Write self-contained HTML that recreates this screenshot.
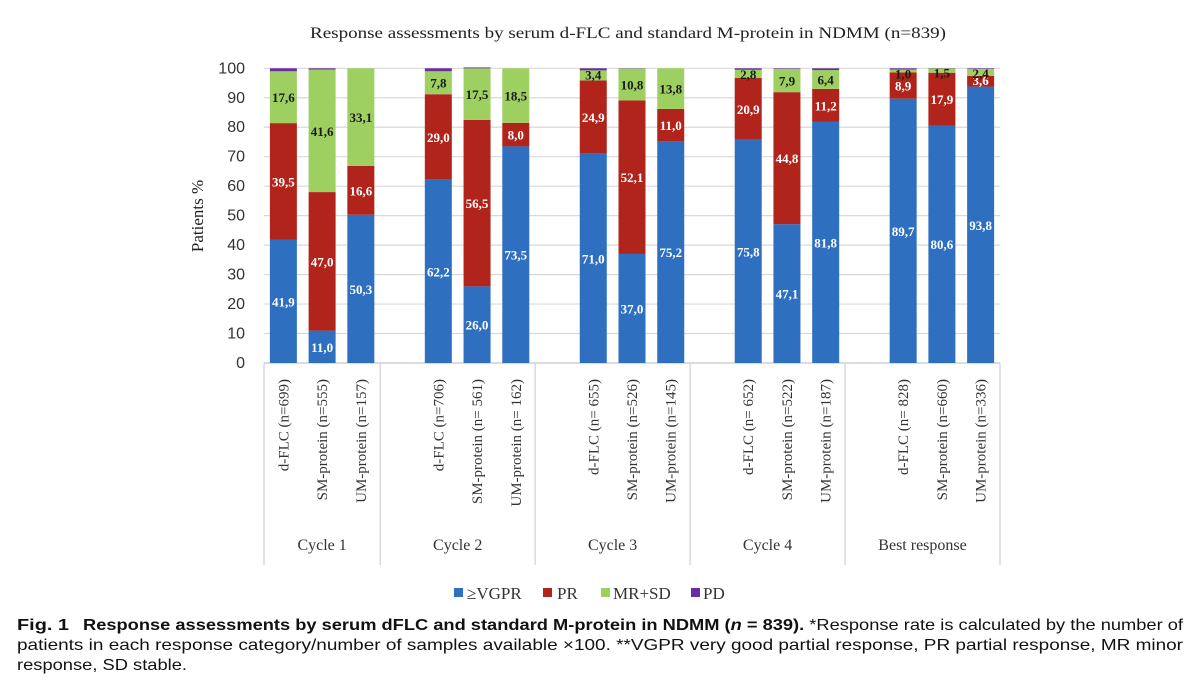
<!DOCTYPE html>
<html><head><meta charset="utf-8">
<style>
html,body{margin:0;padding:0;background:#fff;}
svg{display:block;}
</style></head>
<body>
<svg id="chart" width="1200" height="687" viewBox="0 0 1200 687" xmlns="http://www.w3.org/2000/svg">
<text x="310" y="38" textLength="636" lengthAdjust="spacingAndGlyphs" font-family="Liberation Serif, serif" font-size="16" fill="#222">Response assessments by serum d-FLC and standard M-protein in NDMM (n=839)</text>
<text transform="translate(203,216) rotate(-90)" text-anchor="middle" font-family="Liberation Serif, serif" font-size="17" fill="#222">Patients %</text>
<g id="grid"></g><g id="bars"></g><g id="xaxis"></g>
<g font-family="Liberation Serif, serif" font-size="17" fill="#333">
 <rect x="454" y="588" width="9" height="9" fill="#2e6fc0"/>
 <text x="467" y="599">≥VGPR</text>
 <rect x="543" y="588" width="9" height="9" fill="#b1241b"/>
 <text x="557" y="599">PR</text>
 <rect x="601" y="588" width="9" height="9" fill="#9dcf61"/>
 <text x="613" y="599">MR+SD</text>
 <rect x="691" y="588" width="9" height="9" fill="#6a2ca0"/>
 <text x="703" y="599">PD</text>
</g>
<g font-family="Liberation Sans, sans-serif" font-size="16" fill="#111">
 <text x="17" y="630" font-weight="bold" textLength="52" lengthAdjust="spacingAndGlyphs">Fig. 1</text>
 <text x="83" y="630" textLength="1100" lengthAdjust="spacingAndGlyphs"><tspan font-weight="bold">Response assessments by serum dFLC and standard M-protein in NDMM (<tspan font-style="italic">n</tspan> = 839).</tspan> *Response rate is calculated by the number of</text>
 <text x="17" y="650" textLength="1166" lengthAdjust="spacingAndGlyphs">patients in each response category/number of samples available ×100. **VGPR very good partial response, PR partial response, MR minor</text>
 <text x="17" y="670" textLength="170" lengthAdjust="spacingAndGlyphs">response, SD stable.</text>
</g>
</svg>
<script>
const groups = ["Cycle 1","Cycle 2","Cycle 3","Cycle 4","Best response"];
const categories = ["d-FLC (n=699)","SM-protein (n=555)","UM-protein (n=157)",
 "d-FLC (n=706)","SM-protein (n= 561)","UM-protein (n= 162)",
 "d-FLC (n= 655)","SM-protein (n=526)","UM-protein (n=145)",
 "d-FLC (n= 652)","SM-protein (n=522)","UM-protein (n=187)",
 "d-FLC (n= 828)","SM-protein (n=660)","UM-protein (n=336)"];
const vgpr = [41.9,11.0,50.3,62.2,26.0,73.5,71.0,37.0,75.2,75.8,47.1,81.8,89.7,80.6,93.8];
const pr   = [39.5,47.0,16.6,29.0,56.5,8.0,24.9,52.1,11.0,20.9,44.8,11.2,8.9,17.9,3.6];
const mrsd = [17.6,41.6,33.1,7.8,17.5,18.5,3.4,10.8,13.8,2.8,7.9,6.4,1.0,1.5,2.4];
const pd   = [1.0,0.4,0.0,1.0,0.3,0.0,0.7,0.1,0.0,0.5,0.2,0.6,0.4,0.1,0.2];
const yTicks = [0,10,20,30,40,50,60,70,80,90,100];

const NS="http://www.w3.org/2000/svg";
const X0=264, X1=1000, Y0=363, Y100=68.3, SLOT=(X1-X0)/19, BW=27;
const y = v => Y0 - (Y0-Y100)*v/100;
const slotOf = i => Math.floor(i/3)*4 + (i%3);
const xc = i => X0 + SLOT*(slotOf(i)+0.5);
function mk(tag, attrs, parent){const e=document.createElementNS(NS,tag);for(const k in attrs)e.setAttribute(k,attrs[k]);parent.appendChild(e);return e;}
const grid=document.getElementById('grid'), bars=document.getElementById('bars'), xa=document.getElementById('xaxis');

yTicks.forEach(t=>{
  const l=mk('line',{x1:X0,x2:X1,y1:y(t),y2:y(t),stroke:t===0?'#c8c8c8':'#d9d9d9','stroke-width':1.2},grid);
  
  
  const tx=mk('text',{x:245,y:y(t)+5,'text-anchor':'end','font-family':'Liberation Sans, sans-serif','font-size':16,fill:'#333'},grid);
  tx.textContent=t;
  
  
});

const series=[{d:vgpr,c:'#2e6fc0',n:'vgpr',tc:'#fff'},{d:pr,c:'#b1241b',n:'pr',tc:'#fff'},{d:mrsd,c:'#9dcf61',n:'mrsd',tc:'#1a1a1a'},{d:pd,c:'#6a2ca0',n:'pd',tc:null}];
categories.forEach((cat,i)=>{
  let base=0; const cx=xc(i);
  series.forEach(s=>{
    const v=s.d[i];
    if(v>0){
      const r=mk('rect',{x:cx-BW/2,y:y(base+v),width:BW,height:y(base)-y(base+v),fill:s.c},bars);
      
      
      if(s.tc){
        let ly=(y(base)+y(base+v))/2+5;
        if(v<5) ly=y(base+v)+9;
        const t=mk('text',{x:cx,y:ly,'text-anchor':'middle','font-family':'Liberation Serif, serif','font-size':13,'font-weight':'bold',fill:s.tc},bars);
        t.textContent=v.toFixed(1).replace('.',',');
        
        
      }
    }
    base+=v;
  });
  const ct=mk('text',{transform:`translate(${cx+5},379) rotate(-90)`,'text-anchor':'end','font-family':'Liberation Serif, serif','font-size':15,fill:'#333'},xa);
  ct.textContent=cat;
  
  
});
for(let g=0;g<=groups.length;g++){
  const bx = g===0?X0:(g===groups.length?X1:X0+SLOT*(4*g-1));
  const l=mk('line',{x1:bx,x2:bx,y1:Y0,y2:565,stroke:'#d0d0d0','stroke-width':1.2},xa);
  
  
}
groups.forEach((g,k)=>{
  const a = k===0?X0:X0+SLOT*(4*k-1);
  const b = k===groups.length-1?X1:X0+SLOT*(4*k+3);
  const t=mk('text',{x:(a+b)/2,y:550,'text-anchor':'middle','font-family':'Liberation Serif, serif','font-size':16,fill:'#333'},xa);
  t.textContent=g;
  
  
});
</script>
</body></html>
